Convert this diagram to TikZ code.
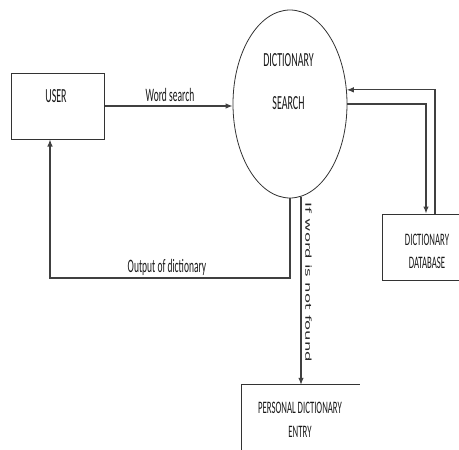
\documentclass[tikz,border=0pt]{standalone}
\usepackage{fontspec}
\usepackage{tikz}
\usetikzlibrary{arrows.meta,shapes.geometric,positioning}
\newfontfamily\dfdfont{Carlito}[FakeStretch=0.5]
\newfontfamily\notefont{DejaVu Sans}
\tikzset{
  flow/.style={
    draw = black!75,
    line width = 1.1pt,
    -{Latex[length=7pt,width=5.5pt]}
  },
  box/.style={
    draw = black!80,
    line width = 1pt
  },
  entity/.style={
    shape = rectangle,
    box,
    inner sep = 0pt
  },
  process/.style={
    shape = ellipse,
    draw = black!80,
    line width = 0.8pt,
    inner sep = 0pt,
    minimum width = 114pt,
    minimum height = 188pt
  },
  lbl/.style={
    font = \dfdfont\fontsize{20}{22}\selectfont,
    text = black!90,
    inner sep = 0pt
  },
  smalllbl/.style={
    lbl,
    font = \dfdfont\fontsize{17.5}{19}\selectfont
  },
  flowlbl/.style={
    lbl,
    font = \dfdfont\fontsize{19}{21}\selectfont
  }
}
\begin{document}
\begin{tikzpicture}[x=1pt,y=-1pt]
        \useasboundingbox (0,0) rectangle (459,450);
        \clip (0,0) rectangle (459,450);

        % entities and the process
        \node[entity, minimum width=93pt, minimum height=66pt] (user) at (57.5,106) {};
        \node[process] (search) at (290,104) {};
        \node[entity, minimum width=88pt, minimum height=66pt] (db) at (426,247) {};
        \node[shape=rectangle, inner sep=0pt, minimum width=118pt, minimum height=85pt] (entry) at (301,427.5) {};
        \draw[box] (entry.south west) |- (entry.north east);

        \node[lbl] (usertext) at (56,96) {USER};
        \node[lbl] (searchtop) at (288.5,60) {DICTIONARY};
        \node[lbl] (searchbot) at (288.5,103) {SEARCH};
        \node[smalllbl] (dbtop) at (427,240) {DICTIONARY};
        \node[smalllbl] (dbbot) at (427,263) {DATABASE};
        \node[smalllbl] (entrytop) at (300,408) {PERSONAL DICTIONARY};
        \node[smalllbl] (entrybot) at (300,432) {ENTRY};

        % data flows
        \draw[flow] (user.east) -- (user.east -| search.west);
        \node[flowlbl] (wordlbl) at (170,95) {Word search};

        \draw[flow] (search.east) -| (db.north);
        \draw[flow] ([xshift=9pt]db.north) |- (search.14);

        \coordinate (outturn) at (50,278);
        \draw[flow] (search.south) |- (outturn) -- (outturn |- user.south);
        \node[flowlbl] (outlbl) at (167,267) {Output of dictionary};

        \draw[flow] (search.-84 -| entry.north) -- (entry.north);
        \node[rotate=-90, inner sep=0pt, text=black!85, font=\notefont\fontsize{16.5}{18}\selectfont] (notfound) at (308.5,282.5) {\scalebox{1}[0.5]{If word is not found}};
\end{tikzpicture}
\end{document}
